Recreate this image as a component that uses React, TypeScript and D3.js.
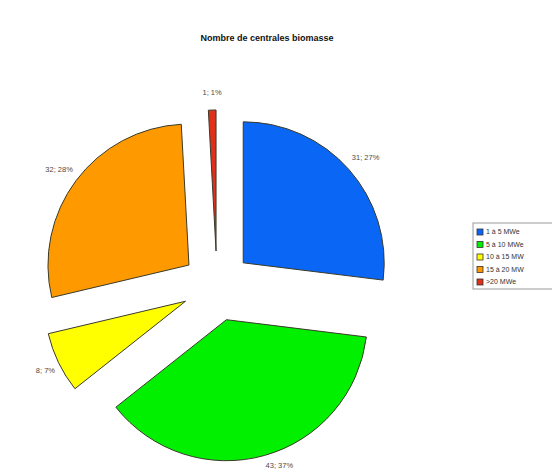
import React from "react";
import * as d3 from "d3";

const categories = ["1 à 5 MWe", "5 à 10 MWe", "10 à 15 MW", "15 à 20 MW", ">20 MWe"];
const values = [31, 43, 8, 32, 1];
const colors = ["#0a66f5", "#00f000", "#ffff00", "#ff9900", "#e0301a"];
const title = "Nombre de centrales biomasse";

const W = 552;
const H = 473;
const cx = 217;
const cy = 286;
const R = 141;
const explode = 35;

export default function App() {
  const total = d3.sum(values);
  const pie = d3.pie<number>().sort(null).startAngle(0).endAngle(2 * Math.PI);
  const arcs = pie(values);
  const arcGen = d3.arc<d3.PieArcDatum<number>>().innerRadius(0).outerRadius(R);
  const font = "'Liberation Sans', Arial, sans-serif";

  return (
    <svg width={W} height={H} style={{ position: "absolute", left: 0, top: 0, background: "#fff" }}>
      <text x={267} y={41} textAnchor="middle" fontFamily={font} fontWeight="bold" fontSize={9} fill="#111">
        {title}
      </text>
      <g transform={`translate(${cx},${cy})`}>
        {arcs.map((a, i) => {
          const mid = (a.startAngle + a.endAngle) / 2;
          const dx = Math.sin(mid) * explode;
          const dy = -Math.cos(mid) * explode;
          return (
            <g key={i} transform={`translate(${dx},${dy})`}>
              <path d={arcGen(a) || ""} fill={colors[i]} stroke="#3a3a2a" strokeWidth={1} strokeLinejoin="round" />
            </g>
          );
        })}
        {arcs.map((a, i) => {
          const mid = (a.startAngle + a.endAngle) / 2;
          const s = Math.sin(mid);
          const c = Math.cos(mid);
          const lx = s * (explode + R + 4);
          const ly = Math.min(-c * (explode + R + 18), H - cy - 8);
          const anchor = Math.abs(s) < 0.15 ? "middle" : s > 0 ? "start" : "end";
          const pct = Math.round((values[i] / total) * 100);
          return (
            <text key={"l" + i} x={lx} y={ly} dy="0.35em" textAnchor={anchor} fontFamily={font} fontSize={7.5} fill="#4a4a4a">
              {`${values[i]}; ${pct}%`}
            </text>
          );
        })}
      </g>
      <g transform="translate(473,223)">
        <rect x={0} y={0} width={90} height={66} fill="#fff" stroke="#999" strokeWidth={1} />
        {categories.map((c, i) => (
          <g key={c} transform={`translate(4,${6 + i * 12.5})`}>
            <rect x={0} y={0} width={6} height={6} fill={colors[i]} stroke="#333" strokeWidth={0.8} />
            <text x={9} y={3} dy="0.35em" fontFamily={font} fontSize={7} fill="#333">
              {c}
            </text>
          </g>
        ))}
      </g>
    </svg>
  );
}
